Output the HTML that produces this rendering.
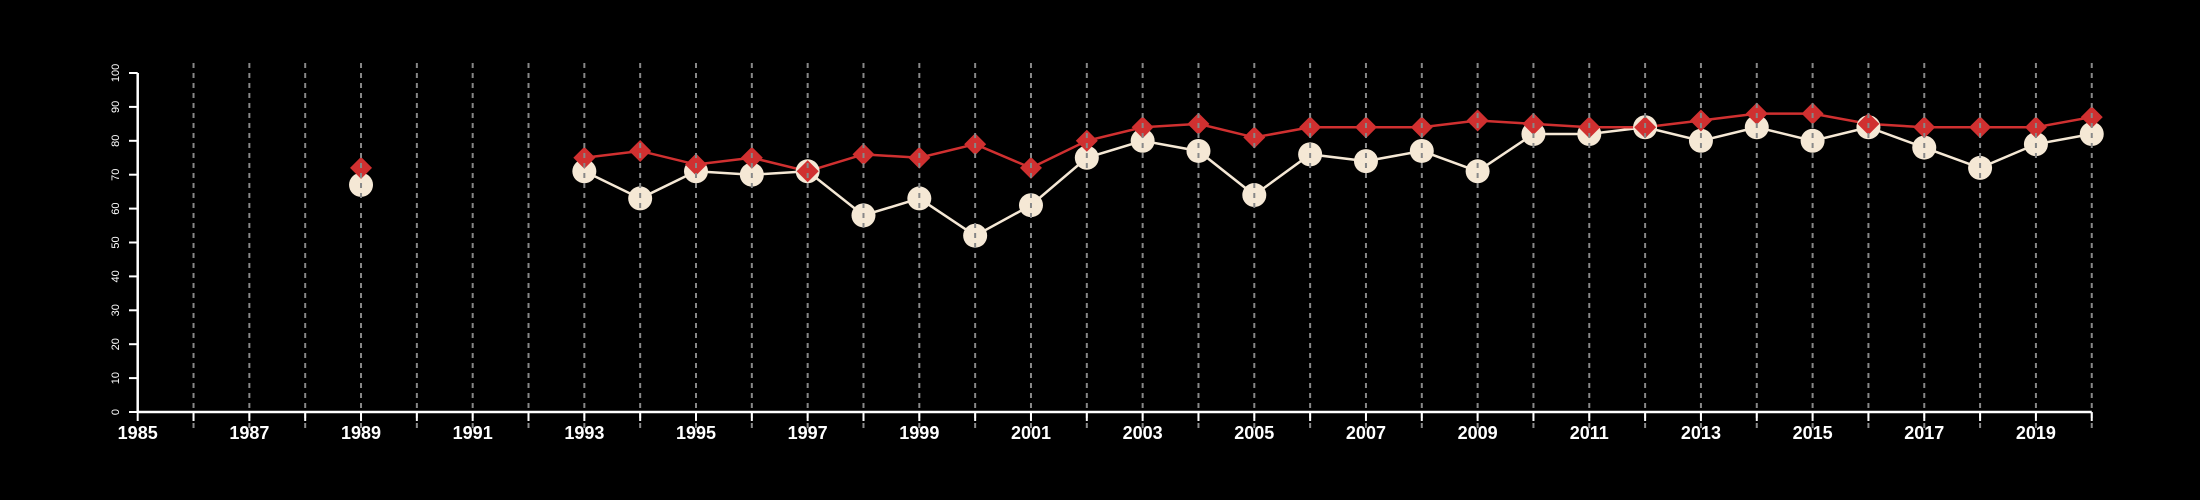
<!DOCTYPE html>
<html><head><meta charset="utf-8"><style>
html,body{margin:0;padding:0;background:#000;}
svg{display:block;}
text{font-family:"Liberation Sans",sans-serif;fill:#fff;}
</style></head><body>
<svg id="chart" width="2200" height="500" viewBox="0 0 2200 500">
<g id="series"></g>
<g id="grid"></g>
<g id="axes"></g>
</svg>
<script>
const years = [1989,1993,1994,1995,1996,1997,1998,1999,2000,2001,2002,2003,2004,2005,2006,2007,2008,2009,2010,2011,2012,2013,2014,2015,2016,2017,2018,2019,2020];
const whiteSeries = [67,71,63,71,70,71,58,63,52,61,75,80,77,64,76,74,77,71,82,82,84,80,84,80,84,78,72,79,82];
const redSeries = [72,75,77,73,75,71,76,75,79,72,80,84,85,81,84,84,84,86,85,84,84,86,88,88,85,84,84,84,87];
const yTicks = [0,10,20,30,40,50,60,70,80,90,100];
const xLabels = [1985,1987,1989,1991,1993,1995,1997,1999,2001,2003,2005,2007,2009,2011,2013,2015,2017,2019];
const xMin=1985, xMax=2020;
const NS="http://www.w3.org/2000/svg";
function X(v){return 137.7+(v-xMin)*55.83;}
function Y(v){return 412-v*3.39;}
function mk(tag,attrs,parent){const e=document.createElementNS(NS,tag);for(const k in attrs)e.setAttribute(k,attrs[k]);parent.appendChild(e);return e;}
const gS=document.getElementById('series'),gG=document.getElementById('grid'),gA=document.getElementById('axes');
function path(vals,color,name){
  // break at gaps > 1 year
  let d='';
  for(let i=0;i<years.length;i++){
    const cmd=(i===0||years[i]-years[i-1]>1)?'M':'L';
    d+=cmd+X(years[i])+' '+Y(vals[i])+' ';
  }
  const p=mk('path',{d:d,fill:'none',stroke:color,'stroke-width':2.5},gS);
  
  
}
path(whiteSeries,'#f5e8d5','white-series-line');
path(redSeries,'#d03030','red-series-line');
for(let i=0;i<years.length;i++){
  const c=mk('circle',{cx:X(years[i]),cy:Y(whiteSeries[i]),r:12,fill:'#f5e8d5'},gS);
  
  
}
for(let i=0;i<years.length;i++){
  const x=X(years[i]),y=Y(redSeries[i]),s=11;
  const p=mk('polygon',{points:`${x},${y-s} ${x+s},${y} ${x},${y+s} ${x-s},${y}`,fill:'#d03030'},gS);
  
  
}
for(let yr=xMin+1;yr<=xMax;yr++){
  const l=mk('line',{x1:X(yr),x2:X(yr),y1:63,y2:428,stroke:'#888','stroke-width':2,'stroke-dasharray':'5 5'},gG);
  
  
}
let ax=mk('line',{x1:X(xMin),x2:X(xMax),y1:412,y2:412,stroke:'#fff','stroke-width':2.5},gA);


let ay=mk('line',{x1:137.7,x2:137.7,y1:Y(0),y2:Y(100),stroke:'#fff','stroke-width':2.5},gA);


for(let yr=xMin;yr<=xMax;yr++){
  const t=mk('line',{x1:X(yr),x2:X(yr),y1:412,y2:421,stroke:'#fff','stroke-width':2},gA);
  
  
}
xLabels.forEach(v=>{
  const t=mk('text',{x:X(v),y:439,'text-anchor':'middle','font-size':18,'font-weight':'bold'},gA);
  t.textContent=v;
  
  
});
yTicks.forEach(v=>{
  const t=mk('line',{x1:129,x2:137.7,y1:Y(v),y2:Y(v),stroke:'#fff','stroke-width':2},gA);
  
  
  const l=mk('text',{x:0,y:0,'text-anchor':'middle','font-size':11,transform:`translate(119,${Y(v)}) rotate(-90)`},gA);
  l.textContent=v;
  
  
});
</script>
</body></html>
